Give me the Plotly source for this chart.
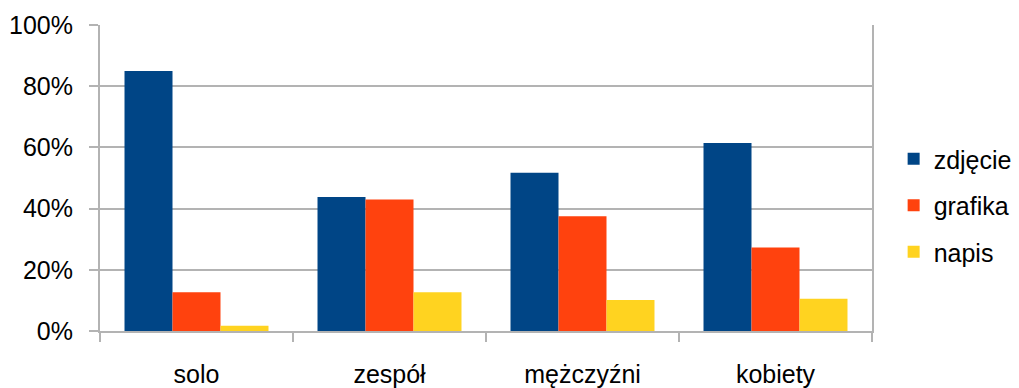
import plotly.graph_objects as go

categories = ["solo", "zespół", "mężczyźni", "kobiety"]
zdjecie = [85.0, 43.8, 51.7, 61.4]
grafika = [12.7, 43.0, 37.5, 27.3]
napis = [1.7, 12.7, 10.1, 10.5]
series_names = ["zdjęcie", "grafika", "napis"]
colors = ["#004586", "#ff420e", "#ffd320"]
y_ticks = [0, 20, 40, 60, 80, 100]
y_tick_labels = ["0%", "20%", "40%", "60%", "80%", "100%"]

fig = go.Figure()
for name, vals, col in zip(series_names, [zdjecie, grafika, napis], colors):
    fig.add_trace(go.Bar(x=categories, y=vals, name=name, marker_color=col,
                         marker_line_width=0, legendgroup=name))

fig.update_layout(
    width=1011, height=380,
    margin=dict(l=92, r=147, t=17, b=57),
    barmode="group", bargap=0.254, bargroupgap=0,
    plot_bgcolor="white", paper_bgcolor="white",
    font=dict(family="Liberation Sans, Arial, sans-serif", size=25, color="black"),
    legend=dict(xref="container", x=0.876, yref="paper", y=0.41,
                xanchor="left", yanchor="middle",
                traceorder="grouped", tracegroupgap=11,
                font=dict(size=25), itemwidth=30),
    showlegend=True,
)
fig.update_xaxes(showline=True, linecolor="#b3b3b3", linewidth=2,
                 ticks="outside", ticklen=9, tickcolor="#b3b3b3", tickwidth=2,
                 tickson="boundaries", ticklabelstandoff=20, showgrid=False,
                 automargin=False)
fig.update_yaxes(range=[0, 100], tickvals=y_ticks, ticktext=y_tick_labels,
                 showline=True, linecolor="#b3b3b3", linewidth=2, mirror=True,
                 showgrid=True, gridcolor="#b3b3b3", gridwidth=2,
                 ticks="outside", ticklen=9, tickcolor="#b3b3b3", tickwidth=2,
                 ticklabelstandoff=11, zeroline=False, automargin=False)

fig.write_html("out.html")
